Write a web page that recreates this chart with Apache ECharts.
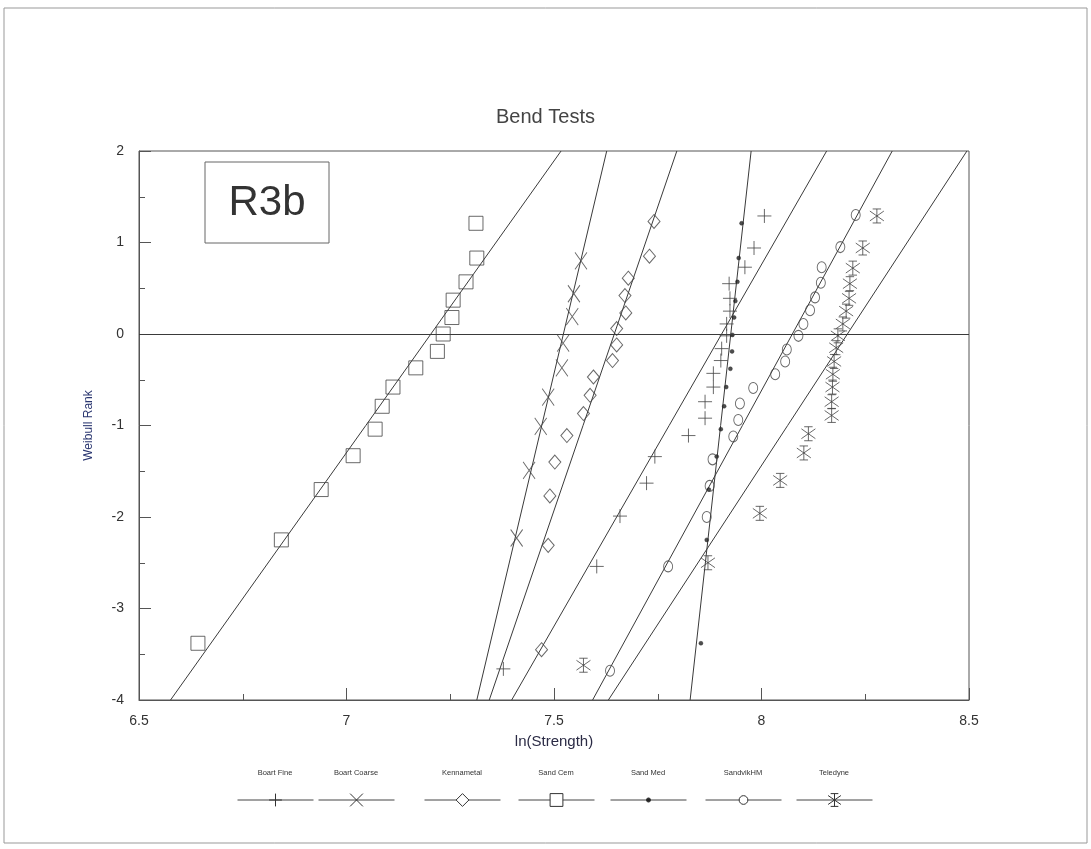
<!DOCTYPE html>
<html>
<head>
<meta charset="utf-8">
<title>Bend Tests</title>
<script src="https://cdn.jsdelivr.net/npm/echarts@6/dist/echarts.min.js"></script>
<style>
  html, body { margin: 0; padding: 0; background: #fff; }
  #chart { width: 1091px; height: 849px; }
</style>
</head>
<body>
<div id="chart"></div>
<script>
// ---- data: ln(strength) vs Weibull rank for each material ----
const seriesNames = ['Boart Fine', 'Boart Coarse', 'Kennametal', 'Sand Cem', 'Sand Med', 'SandvikHM', 'Teledyne'];

const boartFineX = [7.378, 7.603, 7.659, 7.723, 7.743, 7.824, 7.864, 7.864, 7.884, 7.884, 7.902, 7.904, 7.916, 7.916, 7.924, 7.924, 7.922, 7.960, 7.982, 8.007];
const boartFineY = [-3.66, -2.54, -1.99, -1.63, -1.34, -1.11, -0.92, -0.74, -0.58, -0.43, -0.29, -0.16, -0.02, 0.11, 0.25, 0.39, 0.55, 0.73, 0.94, 1.29];

const boartCoarseX = [7.410, 7.440, 7.468, 7.486, 7.519, 7.522, 7.544, 7.548, 7.565];
const boartCoarseY = [-2.23, -1.49, -1.01, -0.69, -0.37, -0.10, 0.19, 0.44, 0.80];

const kennametalX = [7.470, 7.486, 7.490, 7.502, 7.531, 7.571, 7.587, 7.595, 7.641, 7.651, 7.651, 7.673, 7.671, 7.679, 7.730, 7.741];
const kennametalY = [-3.45, -2.31, -1.77, -1.40, -1.11, -0.87, -0.67, -0.47, -0.29, -0.12, 0.06, 0.23, 0.42, 0.61, 0.85, 1.23];

const sandCemX = [6.642, 6.843, 6.939, 7.016, 7.069, 7.086, 7.112, 7.167, 7.219, 7.233, 7.254, 7.257, 7.288, 7.314, 7.312];
const sandCemY = [-3.38, -2.25, -1.70, -1.33, -1.04, -0.79, -0.58, -0.37, -0.19, 0.00, 0.18, 0.37, 0.57, 0.83, 1.21];

const sandMedX = [7.854, 7.868, 7.873, 7.892, 7.902, 7.910, 7.915, 7.925, 7.929, 7.930, 7.934, 7.937, 7.942, 7.945, 7.952];
const sandMedY = [-3.38, -2.25, -1.70, -1.34, -1.04, -0.79, -0.58, -0.38, -0.19, -0.01, 0.18, 0.36, 0.57, 0.83, 1.21];

const sandvikX = [7.635, 7.775, 7.868, 7.875, 7.882, 7.932, 7.944, 7.948, 7.980, 8.033, 8.057, 8.061, 8.089, 8.101, 8.117, 8.129, 8.143, 8.145, 8.190, 8.227];
const sandvikY = [-3.68, -2.54, -2.00, -1.66, -1.37, -1.12, -0.94, -0.76, -0.59, -0.44, -0.30, -0.17, -0.02, 0.11, 0.26, 0.40, 0.56, 0.73, 0.95, 1.30];

const teledyneX = [7.571, 7.871, 7.996, 8.045, 8.102, 8.113, 8.169, 8.169, 8.171, 8.172, 8.175, 8.180, 8.184, 8.196, 8.204, 8.211, 8.213, 8.220, 8.244, 8.278];
const teledyneY = [-3.62, -2.50, -1.96, -1.60, -1.30, -1.09, -0.89, -0.74, -0.58, -0.44, -0.30, -0.15, -0.02, 0.11, 0.25, 0.39, 0.55, 0.72, 0.94, 1.29];

// fitted Weibull lines: ln(strength) where each line crosses rank -4 and rank 2
const fitRanks = [-4, 2];
const fitLowX  = [7.398, 7.314, 7.344, 6.576, 7.828, 7.593, 7.631];
const fitHighX = [8.157, 7.627, 7.796, 7.517, 7.975, 8.315, 8.495];

// axis ticks
const xTickMin = 6.5, xTickMax = 8.5, xTickStep = 0.5;
const yTickMin = -4, yTickMax = 2, yTickStep = 1;

// ---- marker shapes ----
const INK = '#3a3a3a';
const SHAPES = {
  plus:    'path://M5,0L5,10M0,5L10,5',
  cross:   'path://M0,0L10,10M0,10L10,0',
  diamond: 'path://M5,0L10,5L5,10L0,5Z',
  square:  'path://M0,0L10,0L10,10L0,10Z',
  star:    'path://M5,0L5,10M0,1.5L10,8.5M0,8.5L10,1.5M2,0L8,0M2,10L8,10',
  // padded variants so the legend icon stays small
  dotKey:  'path://M0,0M10,10M5,3.4A1.6,1.6,0,1,1,5,6.6A1.6,1.6,0,1,1,5,3.4Z',
  ringKey: 'path://M0,0M10,10M5,1.6A3.4,3.4,0,1,1,5,8.4A3.4,3.4,0,1,1,5,1.6Z'
};

const groups = [
  { x: boartFineX,   y: boartFineY,   shape: SHAPES.plus,    key: SHAPES.plus,    size: 14,       fill: false },
  { x: boartCoarseX, y: boartCoarseY, shape: SHAPES.cross,   key: SHAPES.cross,   size: [12, 17], fill: false },
  { x: kennametalX,  y: kennametalY,  shape: SHAPES.diamond, key: SHAPES.diamond, size: [12, 14], fill: false },
  { x: sandCemX,     y: sandCemY,     shape: SHAPES.square,  key: SHAPES.square,  size: 14,       fill: false },
  { x: sandMedX,     y: sandMedY,     shape: 'circle',       key: SHAPES.dotKey,  size: 4,        fill: true  },
  { x: sandvikX,     y: sandvikY,     shape: 'circle',       key: SHAPES.ringKey, size: [9, 11],  fill: false },
  { x: teledyneX,    y: teledyneY,    shape: SHAPES.star,    key: SHAPES.star,    size: 14,       fill: false }
];

const zip = (xs, ys) => xs.map((v, i) => [v, ys[i]]);

const series = [];
// fitted lines first, so the legend takes its icon (line + marker) from them
groups.forEach((g, i) => {
  series.push({
    name: seriesNames[i],
    type: 'line',
    data: [[fitLowX[i], fitRanks[0]], [fitHighX[i], fitRanks[1]]],
    symbol: g.key,
    showSymbol: false,
    silent: true,
    lineStyle: { color: INK, width: 1 },
    itemStyle: { color: g.fill ? '#222' : '#fff', borderColor: INK, borderWidth: 1 },
    emphasis: { disabled: true },
    z: 2
  });
});
groups.forEach((g, i) => {
  series.push({
    name: seriesNames[i],
    type: 'scatter',
    data: zip(g.x, g.y),
    symbol: g.shape,
    symbolSize: g.size,
    silent: true,
    itemStyle: g.fill
      ? { color: '#222', borderColor: '#222', borderWidth: 0.5 }
      : { color: 'rgba(0,0,0,0)', borderColor: '#444', borderWidth: 1 },
    z: 3
  });
});
// reference line at rank 0
series[groups.length].markLine = {
  silent: true,
  symbol: ['none', 'none'],
  label: { show: false },
  lineStyle: { type: 'solid', color: INK, width: 1 },
  data: [{ yAxis: 0 }]
};

const FONT = '"Liberation Sans", Arial, sans-serif';
const legendLeft = [237, 318, 424, 518, 610, 705, 796];
const legendTop = 792;
const legendItemW = 76;

const legends = seriesNames.map((n, i) => ({
  data: [n],
  left: legendLeft[i],
  top: legendTop,
  padding: 0,
  itemWidth: legendItemW,
  itemHeight: 16,
  selectedMode: false,
  formatter: () => '',
  textStyle: { fontSize: 1 },
  lineStyle: { color: '#444', width: 1 },
  itemStyle: { borderColor: '#333', borderWidth: 1 }
}));

const axisCommon = {
  axisLine: { show: true, onZero: false, lineStyle: { color: '#555', width: 1 } },
  axisTick: { show: true, inside: true, length: 12, lineStyle: { color: '#555' } },
  minorTick: { show: true, splitNumber: 2, length: 6, lineStyle: { color: '#555' } },
  splitLine: { show: false }
};

const chart = echarts.init(document.getElementById('chart'), null, { renderer: 'canvas' });

chart.setOption({
  animation: false,
  backgroundColor: '#fff',
  textStyle: { fontFamily: FONT },
  title: {
    text: 'Bend Tests',
    left: 'center',
    top: 107,
    padding: [0, 0, 0, 18],
    textStyle: { fontSize: 20, fontWeight: 'normal', color: '#444', fontFamily: FONT }
  },
  grid: {
    left: 139, top: 151, width: 830, height: 549,
    show: true, borderColor: '#555', borderWidth: 1, backgroundColor: 'transparent'
  },
  legend: legends,
  xAxis: Object.assign({
    type: 'value',
    min: xTickMin, max: xTickMax, interval: xTickStep,
    name: 'ln(Strength)',
    nameLocation: 'middle',
    nameGap: 34,
    nameTextStyle: { fontSize: 15, color: '#2b2b45', fontFamily: FONT },
    axisLabel: { fontSize: 14, color: '#333', margin: 14, fontFamily: FONT }
  }, axisCommon),
  yAxis: Object.assign({
    type: 'value',
    min: yTickMin, max: yTickMax, interval: yTickStep,
    name: 'Weibull Rank',
    nameLocation: 'middle',
    nameGap: 44,
    nameTextStyle: { fontSize: 12, color: '#2a3670', fontFamily: FONT },
    axisLabel: { fontSize: 14, color: '#333', margin: 15, fontFamily: FONT }
  }, axisCommon),
  series: series,
  graphic: [
    // page frame
    { type: 'rect', shape: { x: 4, y: 8, width: 1083, height: 835 },
      style: { fill: 'none', stroke: '#999', lineWidth: 1 }, silent: true },
    // sample tag
    { type: 'rect', shape: { x: 205, y: 162, width: 124, height: 81 },
      style: { fill: '#fff', stroke: '#666', lineWidth: 1 }, silent: true, z: 10 },
    { type: 'text', x: 267, y: 203, silent: true, z: 11,
      style: { text: 'R3b', fill: '#333', font: '42px ' + FONT, textAlign: 'center', textVerticalAlign: 'middle' } }
  ].concat(seriesNames.map((n, i) => ({
    type: 'text',
    x: legendLeft[i] + legendItemW / 2,
    y: 773,
    silent: true,
    style: { text: n, fill: '#333', font: '7.5px ' + FONT, textAlign: 'center', textVerticalAlign: 'middle' }
  })))
});
</script>
</body>
</html>
